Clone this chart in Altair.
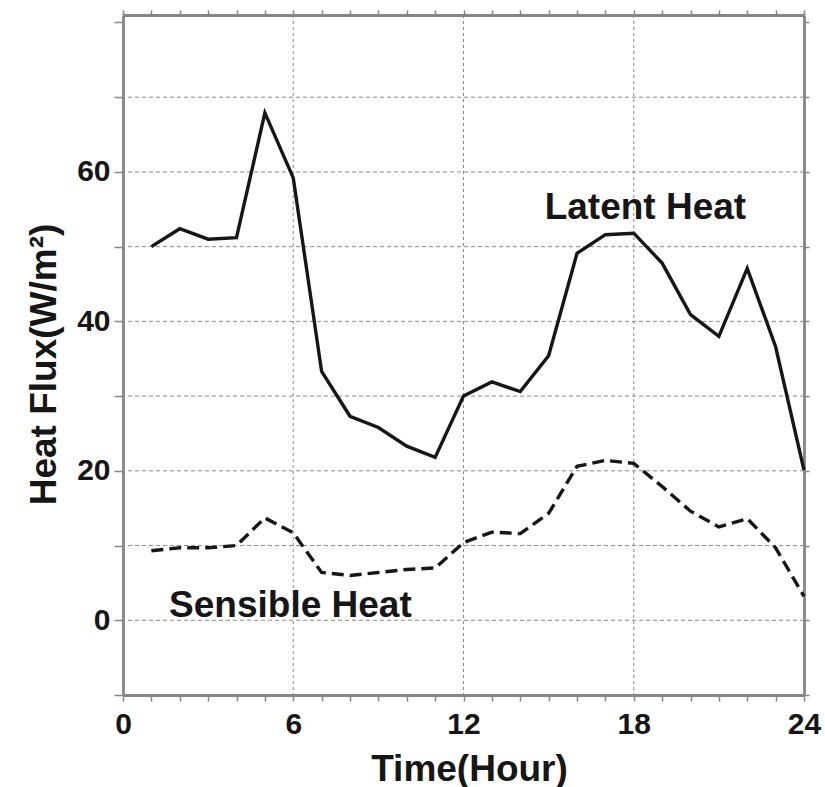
import altair as alt
import pandas as pd

hours = list(range(1, 25))
latent = [50.0, 52.4, 51.0, 51.2, 67.9, 59.2, 33.3, 27.3, 25.8, 23.3, 21.8, 30.0,
          31.9, 30.6, 35.4, 49.1, 51.6, 51.8, 47.8, 40.9, 38.0, 47.1, 36.6, 20.1]
sensible = [9.3, 9.7, 9.7, 10.0, 13.7, 11.7, 6.4, 6.0, 6.4, 6.8, 7.0, 10.4,
            11.8, 11.6, 14.3, 20.6, 21.4, 21.0, 17.9, 14.6, 12.5, 13.6, 9.7, 3.2]

x_ticks = list(range(0, 25))
y_ticks = list(range(-10, 81, 10))
x_grid = [6, 12, 18]
y_grid = list(range(0, 71, 10))

labels = ["Latent Heat", "Sensible Heat"]
label_x = [18.41, 5.90]
label_y = [53.7, 0.44]

FONT = "Liberation Sans"
AXIS_GRAY = "#858585"
INK = "#161616"

df = pd.DataFrame({"hour": hours, "latent": latent, "sensible": sensible})
xs = alt.Scale(domain=[0, 24], nice=False, zero=False)
ys = alt.Scale(domain=[-10, 81], nice=False, zero=False)

common_axis = dict(
    domainColor=AXIS_GRAY, domainWidth=2.8, tickColor=AXIS_GRAY, tickWidth=1.5,
    grid=False, labelFont=FONT, labelFontSize=30, labelFontWeight="bold",
    labelColor=INK, titleFont=FONT, titleFontSize=37, titleFontWeight="bold",
    titleColor=INK,
)
plain_axis = {k: v for k, v in common_axis.items() if not k.startswith(("label", "title"))}

x_bottom = alt.Axis(
    orient="bottom", values=x_ticks, tickSize=6, labelPadding=32,
    labelBaseline="alphabetic",
    labelExpr="datum.value % 6 == 0 ? datum.label : ''",
    title="Time(Hour)", titleBaseline="alphabetic", titleY=85, titleX=346,
    titleAlign="center", labelFlush=False, labelOverlap=False, **common_axis,
)
y_left = alt.Axis(
    orient="left", values=y_ticks, tickSize=9, labelPadding=4,
    labelExpr="(datum.value % 20 == 0 && datum.value >= 0 && datum.value <= 60) ? datum.label : ''",
    title="Heat Flux(W/m²)", titleAngle=-90, titleBaseline="alphabetic",
    titleX=-68, titleY=349, titleAlign="center", labelFlush=False,
    labelOverlap=False, **common_axis,
)
x_top = alt.Axis(orient="top", values=x_ticks, tickSize=5, labels=False,
                 title=None, **plain_axis)
y_right = alt.Axis(orient="right", values=y_ticks, tickSize=5, labels=False,
                   title=None, **plain_axis)

grid_x = alt.Chart(pd.DataFrame({"g": x_grid})).mark_rule(
    color="#8a8a8a", strokeWidth=1, strokeDash=[3, 3]
).encode(x=alt.X("g:Q", scale=xs, axis=None))

grid_y = alt.Chart(pd.DataFrame({"g": y_grid})).mark_rule(
    color="#8a8a8a", strokeWidth=1, strokeDash=[4, 3]
).encode(y=alt.Y("g:Q", scale=ys, axis=None))

latent_line = alt.Chart(df).mark_line(color=INK, strokeWidth=3.4).encode(
    x=alt.X("hour:Q", scale=xs, axis=x_bottom),
    y=alt.Y("latent:Q", scale=ys, axis=y_left),
)

sensible_line = alt.Chart(df).mark_line(
    color=INK, strokeWidth=3.4, strokeDash=[12, 6]
).encode(
    x=alt.X("hour:Q", scale=xs, axis=None),
    y=alt.Y("sensible:Q", scale=ys, axis=None),
)

frame = alt.Chart(df).mark_line(opacity=0).encode(
    x=alt.X("hour:Q", scale=xs, axis=x_top),
    y=alt.Y("latent:Q", scale=ys, axis=y_right),
)

text = alt.Chart(pd.DataFrame({"t": labels, "x": label_x, "y": label_y})).mark_text(
    font=FONT, fontSize=37, fontWeight="bold", color=INK,
    align="center", baseline="alphabetic",
).encode(
    x=alt.X("x:Q", scale=xs, axis=None),
    y=alt.Y("y:Q", scale=ys, axis=None),
    text="t:N",
)

chart = alt.layer(
    grid_x, grid_y, latent_line, sensible_line, text, frame
).resolve_axis(x="independent", y="independent").properties(
    width=681, height=680,
    autosize=alt.AutoSizeParams(type="none"),
    padding={"left": 123, "top": 15, "right": 21, "bottom": 92},
    background="white",
).configure_view(stroke=None)

chart.save("out.html", embed_options={"renderer": "svg", "actions": False})
